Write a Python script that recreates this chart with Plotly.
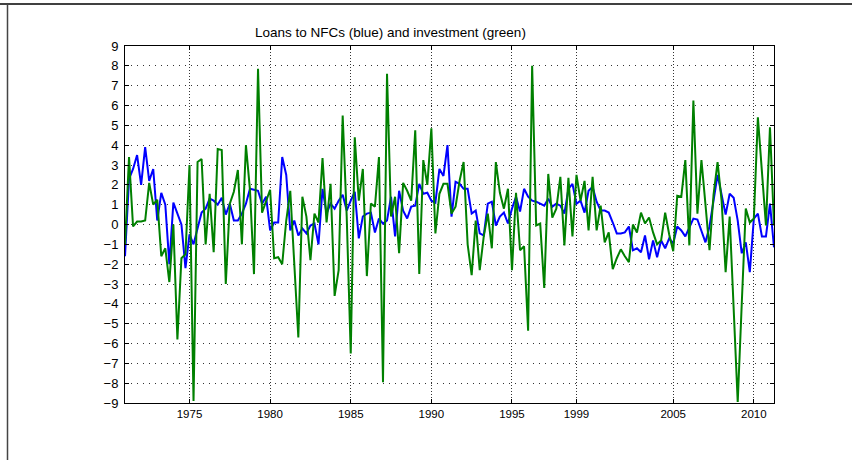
import plotly.graph_objects as go

# Quarterly observations, 1971Q1 .. 2011Q2
start_year = 1971.0
loans_blue = [
    -1.6, 2.3, 2.8, 3.5, 2.0, 3.9, 2.2, 2.8, 0.2, 1.6,
    1.0, -2.0, 1.1, 0.5, 0.0, -2.2, -0.5, -1.0, -0.2, 0.6,
    0.8, 1.3, 1.2, 1.0, 1.35, 0.5, 1.05, 0.2, 0.2, 0.55,
    1.05, 1.8, 1.75, 1.7, 1.05, 1.4, -0.3, 0.1, 0.1, 3.4,
    2.5, -0.3, 0.2, -0.55, -0.2, -0.45, -0.05, 0.05, -1.0, 1.8,
    0.55, 1.05, 0.8, 1.2, 1.5, 0.7, 1.2, 1.65, -0.7, 0.4,
    0.55, 0.6, -0.4, 0.3, 0.05, 0.2, 1.4, -0.6, 1.7, 0.7,
    0.3, 0.9, 0.95, 2.05, 1.55, 1.6, 1.2, 1.1, 2.8, 2.45,
    4.0, 0.4, 2.15, 2.05, 1.8, 1.8, 0.55, 0.7, -0.45, -0.55,
    1.05, 1.15, -0.05, 0.4, 0.6, 0.05, 0.8, 1.4, 0.65, 1.8,
    1.4, 1.2, 1.15, 1.05, 0.95, 1.3, 0.9, 1.05, 0.95, 0.55,
    1.8, 2.05, 1.05, 1.2, 0.6, 1.7, 1.9, 1.15, 0.7, 0.7,
    0.6, 0.1, -0.45, -0.45, -0.4, -0.1, -1.3, -1.2, -1.4, -0.55,
    -1.75, -0.8, -1.65, -0.8, -1.2, -0.7, -0.95, -0.1, -0.3, -0.6,
    -0.1, 0.3, 0.25, -0.3, -0.9, -0.1, 1.3, 2.5, 1.5, 0.5,
    1.55, 1.35, 0.2, -1.45, -0.9, -2.4, 0.3, 0.55, -0.6, -0.6,
    1.05, -1.15,
]
investment_green = [
    -1.0, 3.4, -0.1, 0.15, 0.15, 0.2, 2.1, 1.0, 1.25, -1.6,
    -1.2, -2.9, 0.0, -5.8, -1.7, -1.5, 3.0, -8.9, 3.15, 3.3,
    -1.0, 1.55, -1.4, 3.8, 3.75, -3.0, 1.05, 1.65, 2.75, -1.0,
    4.0, 1.75, -2.5, 7.85, 0.6, 1.2, 1.75, -1.7, -1.65, -2.0,
    0.2, 1.7, -1.8, -5.7, 1.4, 0.4, -1.8, 0.55, 0.1, 3.35,
    0.1, 2.05, -3.6, -2.3, 5.5, 0.4, -6.5, 4.4, 1.2, 2.8,
    -2.6, 1.05, 0.9, 3.4, -7.95, 7.6, 0.4, 1.4, -1.45, 2.1,
    1.7, 1.2, 4.75, -2.5, 3.25, 2.0, 4.85, -0.45, 1.55, 2.05,
    2.05, 0.55, 0.9, 2.2, 3.15, -1.0, -2.55, 0.2, -2.3, -0.6,
    0.55, -1.2, 3.15, 1.6, 0.8, 1.8, -2.3, 1.6, -1.3, -1.1,
    -5.35, 8.0, -0.05, 0.05, -3.2, 2.55, 0.35, 0.8, 2.4, -1.05,
    2.35, -0.6, 2.5, 1.2, 2.2, -0.3, 2.4, -0.3, 0.95, -0.9,
    -0.4, -2.25, -1.7, -1.25, -1.6, -1.9, 0.0, -0.4, 0.6, 0.05,
    0.35, -0.4, -1.0, -0.8, 0.6, -0.5, -1.35, 1.45, 1.4, 3.25,
    -1.05, 6.25, 0.55, 3.25, 1.0, -1.3, 1.5, 3.15, 1.2, -2.4,
    0.4, -4.0, -8.95, -4.0, 0.8, 0.1, 0.3, 5.4, 2.5, -0.05,
    4.9, -0.05,
]
x_tick_values = [1975, 1980, 1985, 1990, 1995, 1999, 2005, 2010]
x_tick_labels = ["1975", "1980", "1985", "1990", "1995", "1999", "2005", "2010"]
y_tick_values = list(range(-9, 10))
title_text = "Loans to NFCs (blue) and investment (green)"

n = min(len(loans_blue), len(investment_green))
dates = [start_year + 0.25 * i for i in range(n)]

FONT = "Liberation Sans Narrow, Arial Narrow, Liberation Sans, Arial, sans-serif"

fig = go.Figure()
fig.add_trace(go.Scatter(x=dates, y=loans_blue[:n], mode="lines",
                         line=dict(color="rgb(0,0,255)", width=2), showlegend=False))
fig.add_trace(go.Scatter(x=dates, y=investment_green[:n], mode="lines",
                         line=dict(color="rgb(0,128,0)", width=2), showlegend=False))

L, R, T, B = 125, 78, 46, 57
pw = 852 - L - R
ph = 460 - T - B
def px(xp):
    return (xp - L) / pw
def py(yp):
    return (460 - B - yp) / ph

fig.update_layout(
    width=852, height=460,
    margin=dict(l=L, r=R, t=T, b=B, pad=0),
    paper_bgcolor="white", plot_bgcolor="white",
    font=dict(family=FONT, size=12, color="black"),
    showlegend=False,
)
fig.add_annotation(text=title_text, xref="paper", yref="paper",
                   x=px(253), y=py(33), xanchor="left", yanchor="middle",
                   showarrow=False,
                   font=dict(family=FONT, size=13.5, color="black"))
fig.update_xaxes(
    range=[dates[0], dates[n - 1]],
    tickmode="array", tickvals=x_tick_values, ticktext=x_tick_labels,
    ticks="inside", ticklen=4, tickcolor="black", tickwidth=1,
    showline=True, linecolor="black", linewidth=1, mirror="ticks",
    showgrid=True, gridcolor="#333333", gridwidth=1, griddash="1px,2px",
    zeroline=False, tickfont=dict(family=FONT, size=11.5, color="black"),
)
fig.update_yaxes(
    range=[-9, 9],
    tickmode="array", tickvals=y_tick_values,
    ticks="inside", ticklen=4, tickcolor="black", tickwidth=1,
    showline=True, linecolor="black", linewidth=1, mirror="ticks",
    showgrid=True, gridcolor="#333333", gridwidth=1, griddash="1px,5px",
    zeroline=False, tickfont=dict(family=FONT, size=13, color="black"),
    ticklabelstandoff=3,
)

# outer frame lines of the original figure window
fig.add_shape(type="line", xref="paper", yref="paper",
              x0=px(0), x1=px(852), y0=py(4), y1=py(4),
              line=dict(color="black", width=1.5))
fig.add_shape(type="line", xref="paper", yref="paper",
              x0=px(7.5), x1=px(7.5), y0=py(4), y1=py(460),
              line=dict(color="#444444", width=1.5))

fig.write_html("out.html", config={"displayModeBar": False},
               post_script="document.body.style.margin='0';document.body.style.overflow='hidden';")
